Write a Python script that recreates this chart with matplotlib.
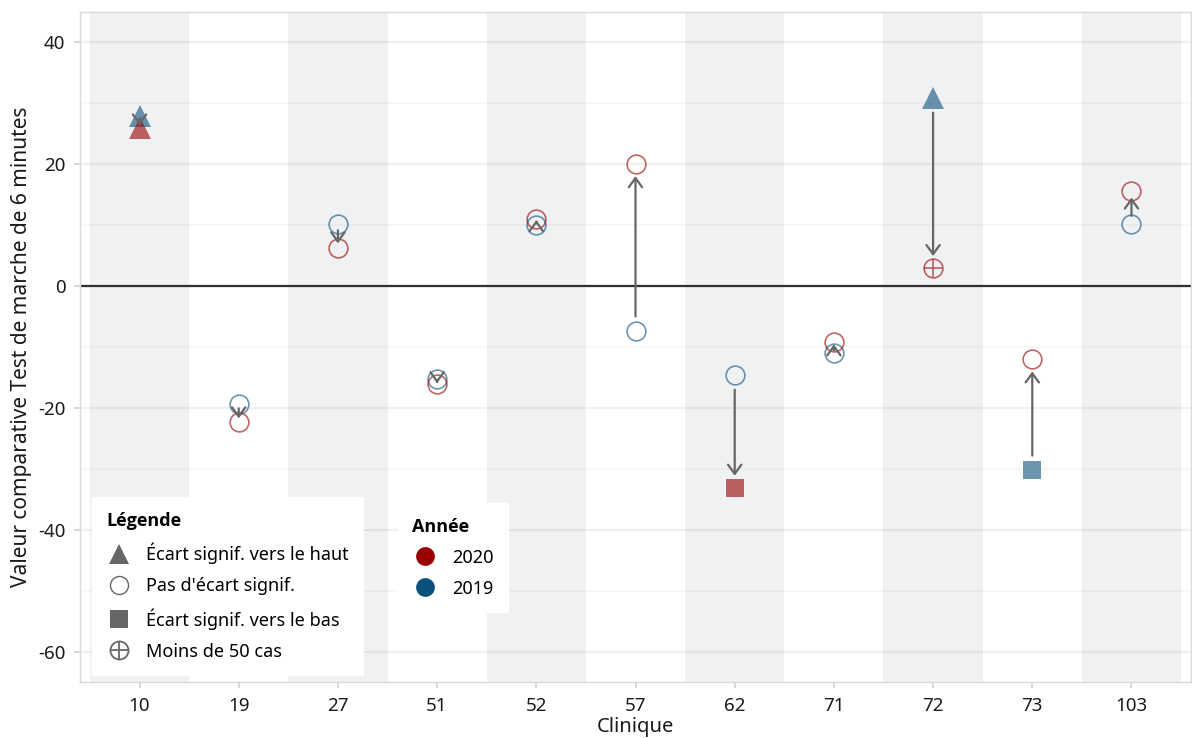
import numpy as np
import matplotlib.pyplot as plt
from matplotlib.lines import Line2D
from matplotlib.legend_handler import HandlerTuple

plt.rcParams['font.family'] = ['Noto Sans', 'DejaVu Sans']
plt.rcParams['axes.unicode_minus'] = False

# Données
cliniques = ['10', '19', '27', '51', '52', '57', '62', '71', '72', '73', '103']
val_2019 = [27.9, -19.3, 10.1, -15.3, 10.0, -7.4, -14.6, -11.0, 30.8, -30.2, 10.1]
val_2020 = [25.9, -22.3, 6.2, -16.1, 11.0, 20.0, -33.1, -9.2, 2.9, -12.0, 15.6]
statut_2019 = ['haut', 'pas', 'pas', 'pas', 'pas', 'pas', 'pas', 'pas', 'haut', 'bas', 'pas']
statut_2020 = ['haut', 'pas', 'pas', 'pas', 'pas', 'pas', 'bas', 'pas', 'moins50', 'pas', 'pas']
yticks = [-60, -40, -20, 0, 20, 40]
ylabels = ['-60', '-40', '-20', '0', '20', '40']

ROUGE = '#990000'
BLEU = '#0b4f7c'
GRIS = '#666666'
BANDE = '#f0f1f3'
ALPHA = 0.6

fig = plt.figure(figsize=(11.92, 7.38), dpi=100)
ax = fig.add_axes([80/1192, 56/738, 1111/1192, 670/738])
x = np.arange(len(cliniques))

# Bandes grises alternées
for i in x[::2]:
    ax.axvspan(i - 0.5, i + 0.5, color=BANDE, zorder=0, lw=0)

ax.set_xlim(-0.6, len(cliniques) - 0.4)
ax.set_ylim(-64.9, 44.9)
ax.set_yticks(yticks)
ax.set_yticklabels(ylabels)
ax.set_yticks(np.arange(-50, 40, 20), minor=True)
ax.set_xticks(x)
ax.set_xticklabels(cliniques)
ax.grid(True, axis='y', which='major', color='black', alpha=0.06, lw=1.6, zorder=0.5)
ax.grid(True, axis='y', which='minor', color='black', alpha=0.04, lw=1.2, zorder=0.5)
ax.tick_params(axis='both', which='major', length=4.5, width=1.2, color='#d0d0d0',
               labelsize=13.5, labelcolor='#1a1a1a', pad=6)
ax.tick_params(axis='y', which='minor', length=0)
for s in ax.spines.values():
    s.set_color('#d9d9d9')
    s.set_linewidth(1)

ax.axhline(0, color='#333333', lw=1.6, zorder=1)

def trace(xi, yi, statut, couleur):
    if statut == 'haut':
        ax.plot(xi, yi, marker='^', ms=16, color=couleur, alpha=ALPHA, mew=0, ls='none', zorder=3)
    elif statut == 'bas':
        ax.plot(xi, yi, marker='s', ms=13.5, color=couleur, alpha=ALPHA, mew=0, ls='none', zorder=3)
    elif statut == 'moins50':
        ax.plot(xi, yi, marker='o', ms=13.5, mfc='none', mec=couleur, alpha=ALPHA, mew=1.2, ls='none', zorder=3)
        ax.plot(xi, yi, marker='+', ms=13.5, mec=couleur, alpha=ALPHA, mew=1.2, ls='none', zorder=3)
    else:
        ax.plot(xi, yi, marker='o', ms=13.5, mfc='none', mec=couleur, alpha=ALPHA, mew=1.2, ls='none', zorder=3)

for i in x:
    trace(i, val_2019[i], statut_2019[i], BLEU)
    trace(i, val_2020[i], statut_2020[i], ROUGE)

# Flèches 2019 -> 2020
for i in x:
    y1, y2 = val_2019[i], val_2020[i]
    d = y2 - y1
    s = np.sign(d)
    debut = y1 + s * min(2.4, 0.25 * abs(d))
    fin = y2 - s * min(2.0, 0.2 * abs(d))
    ax.annotate('', xy=(i, fin), xytext=(i, debut),
                arrowprops=dict(arrowstyle='->,head_length=0.55,head_width=0.4',
                                color=GRIS, lw=1.6, mutation_scale=12,
                                shrinkA=0, shrinkB=0), zorder=4)

ax.set_xlabel('Clinique', fontsize=14.5, color='#1a1a1a', labelpad=2)
ax.set_ylabel('Valeur comparative Test de marche de 6 minutes', fontsize=15, color='#1a1a1a', labelpad=4)

# Légendes
style = dict(loc='lower left', alignment='left', borderaxespad=0, fontsize=13,
             frameon=True, fancybox=False, framealpha=1, edgecolor='white',
             facecolor='white', handlelength=1.4, handletextpad=0.8,
             labelspacing=0.72, borderpad=0.8)
titre = {'family': 'Open Sans', 'weight': 'bold', 'size': 13}

h_haut = Line2D([], [], marker='^', ms=14, color=GRIS, mew=0, ls='none')
h_pas = Line2D([], [], marker='o', ms=13, mfc='none', mec=GRIS, mew=1, ls='none')
h_bas = Line2D([], [], marker='s', ms=13, color=GRIS, mew=0, ls='none')
h_m1 = Line2D([], [], marker='o', ms=13, mfc='none', mec=GRIS, mew=1.3, ls='none')
h_m2 = Line2D([], [], marker='+', ms=13, mec=GRIS, mew=1.3, ls='none')
leg1 = ax.legend([h_haut, h_pas, h_bas, (h_m1, h_m2)],
                 ["Écart signif. vers le haut", "Pas d'écart signif.",
                  "Écart signif. vers le bas", "Moins de 50 cas"],
                 handler_map={tuple: HandlerTuple(ndivide=1, pad=0)},
                 title='Légende', title_fontproperties=titre,
                 bbox_to_anchor=(0.0108, 0.0104), **style)
ax.add_artist(leg1)

h20 = Line2D([], [], marker='o', ms=13.5, color=ROUGE, mew=0, ls='none')
h19 = Line2D([], [], marker='o', ms=13.5, color=BLEU, mew=0, ls='none')
leg2 = ax.legend([h20, h19], ['2020', '2019'], title='Année', title_fontproperties=titre,
                 bbox_to_anchor=(0.2862, 0.1045), **style)

fig.savefig('out.png', dpi=100)
